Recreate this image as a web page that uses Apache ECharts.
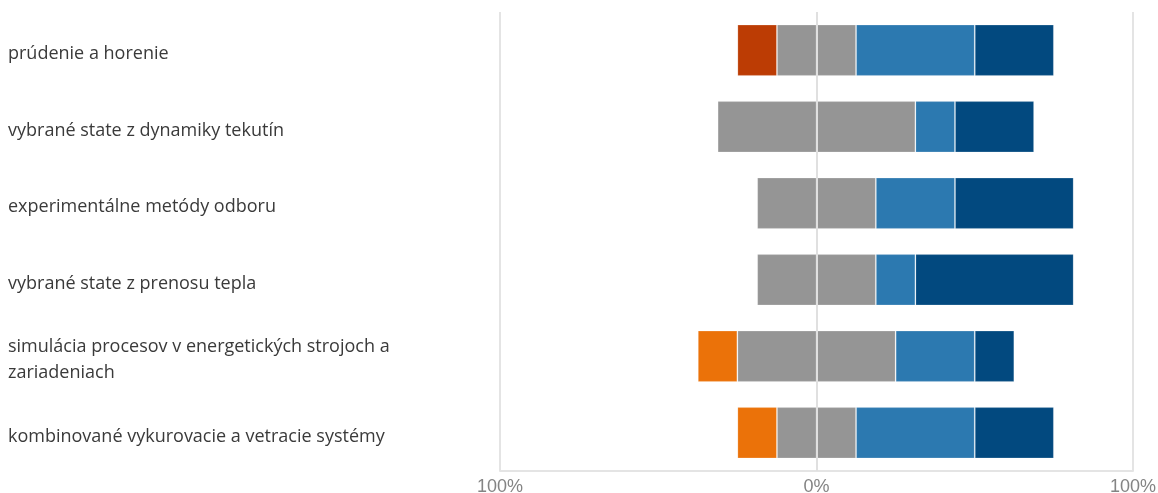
<!DOCTYPE html>
<html><head><meta charset="utf-8">
<script src="https://cdn.jsdelivr.net/npm/echarts@6/dist/echarts.min.js"></script>
<style>html,body{margin:0;padding:0;background:#fff}#c{width:1158px;height:493px}</style>
</head><body><div id="c"></div>
<script>
const categories = [
  'prúdenie a horenie',
  'vybrané state z dynamiky tekutín',
  'experimentálne metódy odboru',
  'vybrané state z prenosu tepla',
  'simulácia procesov v energetických strojoch a zariadeniach',
  'kombinované vykurovacie a vetracie systémy'
];
const strongNeg = [12.5, 0, 0, 0, 0, 0];
const neg       = [0, 0, 0, 0, 12.5, 12.5];
const neutral   = [25, 62.5, 37.5, 37.5, 50, 25];
const pos       = [37.5, 12.5, 25, 12.5, 25, 37.5];
const strongPos = [25, 25, 37.5, 50, 12.5, 25];
const xTicks = [-100, 0, 100];

const colors = {strongNeg:'#bc3c04', neg:'#eb7209', neutral:'#959595', pos:'#2c79b0', strongPos:'#02497f'};
const nz = v => v === 0 ? '-' : v;
function bar(name, data, color, extra) {
  return Object.assign({
    name, type:'bar', stack:'all', data, barCategoryGap:'33%',
    itemStyle:{color, borderColor:'rgba(255,255,255,0.18)', borderWidth:1},
    silent:true
  }, extra||{});
}
const chart = echarts.init(document.getElementById('c'));
chart.setOption({
  animation:false,
  textStyle:{fontFamily:'Open Sans'},
  grid:{left:500, right:25, top:12, bottom:22, containLabel:false, outerBoundsMode:'none'},
  xAxis:{
    type:'value', min:xTicks[0], max:xTicks[2], interval:100,
    axisLine:{show:true, lineStyle:{color:'#e4e4e4', width:2}},
    axisTick:{show:false},
    splitLine:{show:true, lineStyle:{color:'#e4e4e4', width:2}},
    axisLabel:{color:'#848484', fontSize:18, margin:7, fontFamily:'Liberation Sans',
      formatter:v => Math.abs(v) + '%'}
  },
  yAxis:{
    type:'category', data:categories, inverse:true,
    axisLine:{show:false},
    axisTick:{show:false},
    axisLabel:{align:'left', margin:492, color:'#3a3a3a', fontSize:18, fontFamily:'Open Sans',
      width:420, overflow:'break', lineHeight:26, verticalAlign:'middle',
      formatter: v => '{t|' + v + '}',
      rich:{t:{fontSize:18, fontFamily:'Open Sans', color:'#3a3a3a', lineHeight:26, padding:[8,0,0,0]}}}
  },
  series:[
    bar('neutral-', neutral.map(v => nz(-v/2)), colors.neutral),
    bar('neg', neg.map(v => nz(-v)), colors.neg),
    bar('strongNeg', strongNeg.map(v => nz(-v)), colors.strongNeg),
    bar('neutral+', neutral.map(v => nz(v/2)), colors.neutral),
    bar('pos', pos.map(nz), colors.pos),
    bar('strongPos', strongPos.map(nz), colors.strongPos, {
      markLine:{silent:true, symbol:'none', label:{show:false},
        lineStyle:{color:'#e0e0e0', width:2, type:'solid'},
        data:[{xAxis:0}]}
    })
  ]
});
</script></body></html>
